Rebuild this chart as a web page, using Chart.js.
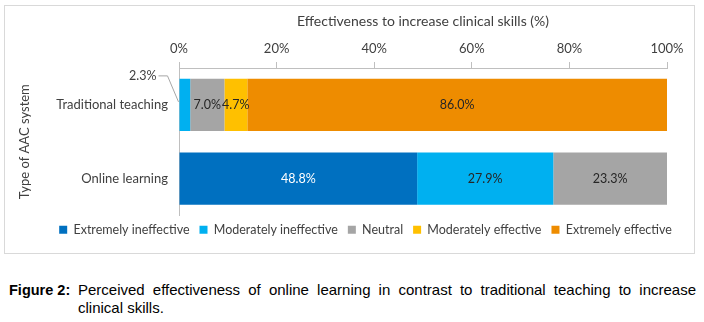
<!DOCTYPE html>
<html lang="en">
<head>
  <meta charset="UTF-8" />
  <title>Perceived effectiveness</title>
  <script src="https://cdn.jsdelivr.net/npm/chart.js"></script>
  <style>
    * { margin: 0; padding: 0; box-sizing: border-box; }
    body { background: #fff; width: 704px; height: 322px; position: relative; overflow: hidden; }
    .frame {
      position: absolute; left: 4px; top: 5px; width: 691px; height: 249px;
      border: 1px solid #d9d9d9;
    }
    .frame canvas { display: block; }
    .caption {
      position: absolute; left: 9px; top: 281px; width: 687px;
      font-family: 'Liberation Sans', Arial, sans-serif; font-size: 15px; line-height: 18px;
      color: #000; display: flex;
    }
    .caption b { width: 69px; flex: none; font-size: 14.5px; }
    .caption p { flex: 1; text-align: justify; }
  </style>
</head>
<body>
  <div class="frame"><canvas id="chart" width="689" height="247"></canvas></div>
  <div class="caption">
    <b>Figure 2:</b>
    <p>Perceived effectiveness of online learning in contrast to traditional teaching to increase clinical skills.</p>
  </div>

  <script>
    // datos
    const systems = ['Traditional teaching', 'Online learning'];
    const levels = ['Extremely ineffective', 'Moderately ineffective', 'Neutral', 'Moderately effective', 'Extremely effective'];
    const extremelyIneffective = [0, 48.8];
    const moderatelyIneffective = [2.3, 27.9];
    const neutral = [7.0, 23.3];
    const moderatelyEffective = [4.7, 0];
    const extremelyEffective = [86.0, 0];
    const xTicks = [0, 20, 40, 60, 80, 100];

    const colores = ['#0070c0', '#00b0f0', '#a5a5a5', '#ffc000', '#ee8c00'];
    const colorTexto = ['#ffffff', '#262626', '#262626', '#262626', '#262626'];
    const series = [extremelyIneffective, moderatelyIneffective, neutral, moderatelyEffective, extremelyEffective];
    const FONT = "'Lato', 'Open Sans', sans-serif";

    // etiquetas de datos sobre las barras
    const etiquetas = {
      id: 'etiquetas',
      afterDatasetsDraw(chart) {
        const ctx = chart.ctx;
        ctx.save();
        ctx.font = '12.5px ' + FONT;
        ctx.textBaseline = 'middle';
        chart.data.datasets.forEach((ds, i) => {
          chart.getDatasetMeta(i).data.forEach((bar, j) => {
            const v = ds.data[j];
            if (!v) return;
            const txt = v.toFixed(1) + '%';
            if (v < 4) {
              // etiqueta fuera con linea guia
              ctx.strokeStyle = '#a6a6a6';
              ctx.lineWidth = 1;
              ctx.beginPath();
              ctx.moveTo(bar.base - 21, bar.y - 29);
              ctx.lineTo(bar.base - 12, bar.y - 29);
              ctx.lineTo(bar.base - 1, bar.y - 3);
              ctx.stroke();
              ctx.fillStyle = '#404040';
              ctx.textAlign = 'right';
              ctx.fillText(txt, bar.base - 23, bar.y - 29);
            } else {
              ctx.fillStyle = colorTexto[i];
              ctx.textAlign = 'center';
              ctx.fillText(txt, (bar.base + bar.x) / 2, bar.y);
            }
          });
        });
        ctx.restore();
      }
    };

    // mover la leyenda para centrarla como en el original
    const moverLeyenda = {
      id: 'moverLeyenda',
      afterLayout(chart) {
        const lg = chart.legend;
        lg.left += 16; lg.right += 16;
        lg.top -= 2; lg.bottom -= 2;
      }
    };

    const chart = new Chart(document.getElementById('chart'), {
      type: 'bar',
      data: {
        labels: systems,
        datasets: levels.map((l, i) => ({
          label: l,
          data: series[i],
          backgroundColor: colores[i],
          borderWidth: 0,
          categoryPercentage: 1,
          barPercentage: 0.71
        }))
      },
      options: {
        indexAxis: 'y',
        responsive: false,
        animation: false,
        layout: { padding: { left: 0, right: 0, top: 4, bottom: 5 } },
        plugins: {
          tooltip: { enabled: false },
          legend: {
            position: 'bottom',
            labels: {
              boxWidth: 8, boxHeight: 8, padding: 10,
              color: '#404040',
              font: { family: FONT, size: 12.5 }
            }
          }
        },
        scales: {
          x: {
            position: 'top',
            stacked: true,
            min: 0, max: 100,
            afterBuildTicks: s => { s.ticks = xTicks.map(v => ({ value: v })); },
            afterFit: s => { s.height = 58; },
            ticks: {
              color: '#404040', padding: 5,
              font: { family: FONT, size: 13 },
              callback: v => v + '%'
            },
            grid: { drawOnChartArea: false, tickLength: 6, color: '#bfbfbf' },
            border: { color: '#bfbfbf' },
            title: {
              display: true,
              text: 'Effectiveness to increase clinical skills (%)',
              color: '#404040',
              padding: { top: 3, bottom: 4 },
              font: { family: FONT, size: 14 }
            }
          },
          y: {
            stacked: true,
            afterFit: s => { s.width = 174; },
            ticks: { color: '#404040', padding: 11, font: { family: FONT, size: 13 } },
            grid: { display: false, drawTicks: false },
            border: { color: '#bfbfbf' },
            title: {
              display: true,
              text: 'Type of AAC system',
              color: '#404040',
              padding: { top: 12, bottom: 4 },
              font: { family: FONT, size: 13 }
            }
          },
          // eje vacio a la derecha solo para reservar margen
          margen: {
            type: 'linear',
            position: 'right',
            afterFit: s => { s.width = 27; },
            ticks: { display: false },
            grid: { display: false },
            border: { display: false }
          }
        }
      },
      plugins: [etiquetas, moverLeyenda]
    });
  </script>
</body>
</html>
